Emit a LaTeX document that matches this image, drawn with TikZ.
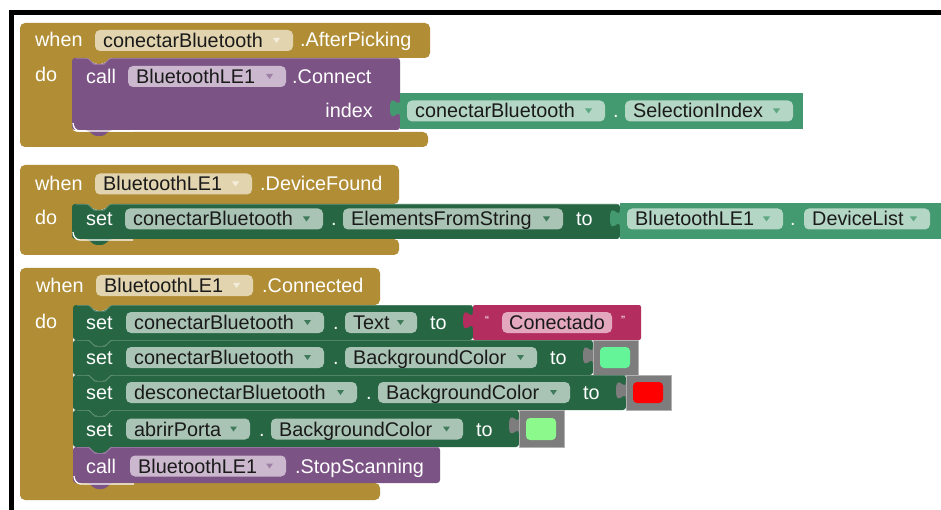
\documentclass[tikz,border=0pt]{standalone}
\usepackage{fontspec}
\setmainfont{Liberation Sans}

% block palette
\definecolor{ctrl}{HTML}{B18E35}
\definecolor{ctrlpill}{HTML}{E2D4AF}
\definecolor{ctrlarrow}{HTML}{F4EDDC}
\definecolor{proc}{HTML}{7C5385}
\definecolor{procpill}{HTML}{CBB8CE}
\definecolor{procarrow}{HTML}{9E80A6}
\definecolor{setg}{HTML}{266643}
\definecolor{setpill}{HTML}{A9C4B4}
\definecolor{setarrow}{HTML}{3F7A5B}
\definecolor{getg}{HTML}{439970}
\definecolor{getpill}{HTML}{B4D6C5}
\definecolor{getarrow}{HTML}{5EA883}
\definecolor{txt}{HTML}{B32D5E}
\definecolor{txtpill}{HTML}{E3A8BE}
\definecolor{colg}{HTML}{7D7D7D}
\definecolor{swgreen}{HTML}{63F597}
\definecolor{swred}{HTML}{FF0000}
\definecolor{swpale}{HTML}{8CF98C}
\definecolor{pilltxt}{HTML}{1A1A1A}

% statement block: x1, ytop, x2, ybottom, colour (notch on top, tab below)
\newcommand{\stmtblock}[5]{%
  \fill[#5, rounded corners=3] (#1,#2) -- ({#1+16},#2) -- ({#1+22},{#2+6}) -- ({#1+32},{#2+6}) -- ({#1+38},#2) -- (#3,#2)
    -- (#3,#4) -- ({#1+38},#4) -- ({#1+32},{#4+6}) -- ({#1+22},{#4+6}) -- ({#1+16},#4) -- (#1,#4) -- cycle;
  \draw[#5!70!white, line width=0.6] ({#1+4},{#2+0.4}) -- ({#1+16},{#2+0.4}) -- ({#1+22},{#2+6.4}) -- ({#1+32},{#2+6.4}) -- ({#1+38},{#2+0.4}) -- ({#3-1},{#2+0.4});
}
% event block with one statement input: x2 of header, header top, input top, input bottom, bar bottom, x2 of bar, inner x
\newcommand{\eventblock}[7]{%
  \fill[ctrl, rounded corners=5] (20,#2) -- (#1,#2) -- (#1,#3) -- ({#7+38},#3) -- ({#7+32},{#3+6}) -- ({#7+22},{#3+6}) -- ({#7+16},#3)
    -- (#7,#3) -- (#7,#4) -- (#6,#4) -- (#6,#5) -- (20,#5) -- cycle;
}
% jigsaw output tab on the left edge of a value block: x, ytop, colour
\newcommand{\valtab}[3]{%
  \fill[#3] (#1,{#2+6}) .. controls (#1,{#2+18.5}) and ({#1-10},{#2-3.5}) .. ({#1-10},{#2+15.5})
    .. controls ({#1-10},{#2+34}) and (#1,{#2+12.5}) .. (#1,{#2+25}) -- cycle;
}
% dropdown field: name, x1, x2, ycentre, text, fill, arrow colour
\newcommand{\ddpill}[7]{%
  \fill[#6, rounded corners=5] (#2,{#4-10.5}) rectangle (#3,{#4+10.5});
  \node[pilltext] (#1) at ({#2+8},{#4+7}) {#5};
  \fill[#7] ({#3-20},{#4-2.5}) -- ({#3-13},{#4-2.5}) -- ({#3-16.5},{#4+2.5}) -- cycle;
}
% white bevel under a statement input: x, ybottom
\newcommand{\bevel}[2]{%
  \draw[white, line width=1.3] (#1,{#2-8}) to[out=-90,in=180] ({#1+7},#2) -- ({#1+60},#2);
}

\begin{document}
\begin{tikzpicture}[x=1pt, y=-1pt,
  every node/.style={font=\fontsize{19.8}{22}\selectfont, inner sep=0},
  lbl/.style={text=white, anchor=base west},
  pilltext/.style={text=pilltxt, anchor=base west},
  quote/.style={text=white, anchor=base west, font=\fontsize{12}{13}\selectfont}]

\useasboundingbox (0,0) rectangle (941,510);
\fill[white] (0,0) rectangle (941,510);

% frame
\draw[line width=5, line join=miter] (11,515) -- (11,12.5) -- (946,12.5);

% ---------- when conectarBluetooth.AfterPicking ----------
\eventblock{430}{23}{58}{132}{147}{428}{72}
\stmtblock{72}{58}{400}{130}{proc}
\bevel{73}{131}
\fill[getg] (400,93) rectangle (803,129);
\valtab{400}{93}{getg}

\node[lbl] (w1) at (35,47) {when};
\ddpill{e1}{95}{293}{40.5}{conectarBluetooth}{ctrlpill}{ctrlarrow}
\node[lbl] (ev1) at (300,47) {.AfterPicking};
\node[lbl] (do1) at (35,82) {do};
\node[lbl] (call1) at (86,83.5) {call};
\ddpill{c1}{128}{286}{76.5}{BluetoothLE1}{procpill}{procarrow}
\node[lbl] (m1) at (292,83.5) {.Connect};
\node[text=white, anchor=base east] (idx) at (373,118) {index};
\ddpill{g1}{407}{605}{111}{conectarBluetooth}{getpill}{getarrow}
\node[lbl] (dot1) at (613,118) {.};
\ddpill{g2}{625}{793}{111}{SelectionIndex}{getpill}{getarrow}

% ---------- when BluetoothLE1.DeviceFound ----------
\eventblock{399}{165}{204}{239}{255}{399}{72}
\stmtblock{72}{204}{620}{239}{setg}
\bevel{73}{240}
\fill[getg] (620,203) rectangle (946,239);
\valtab{620}{203}{getg}

\node[lbl] (w2) at (35,191) {when};
\ddpill{e2}{95}{252}{184}{BluetoothLE1}{ctrlpill}{ctrlarrow}
\node[lbl] (ev2) at (260,191) {.DeviceFound};
\node[lbl] (do2) at (35,225) {do};
\node[lbl] (set2) at (86,226) {set};
\ddpill{s2a}{125}{323}{219}{conectarBluetooth}{setpill}{setarrow}
\node[lbl] (dot2) at (331,226) {.};
\ddpill{s2b}{343}{563}{219}{ElementsFromString}{setpill}{setarrow}
\node[lbl] (to2) at (576,226) {to};
\ddpill{g3}{627}{783}{219}{BluetoothLE1}{getpill}{getarrow}
\node[lbl] (dot3) at (790,226) {.};
\ddpill{g4}{804}{930}{219}{DeviceList}{getpill}{getarrow}

% ---------- when BluetoothLE1.Connected ----------
\eventblock{380}{268}{305}{483}{500}{380}{73}

% row 1: Text
\stmtblock{73}{305}{473}{340}{setg}
\fill[txt, rounded corners=2] (473,305) -- (641,305) -- (641,340) -- (473,340) -- cycle;
\valtab{473}{305}{txt}
% row 2: BackgroundColor (green)
\stmtblock{73}{340}{593}{375}{setg}
\fill[colg, draw=gray!60] (593,340) rectangle (638,375);
\valtab{593}{340}{colg}
\fill[swgreen, rounded corners=4] (600,347) rectangle (630,368);
% row 3: BackgroundColor (red)
\stmtblock{73}{375}{626}{410}{setg}
\fill[colg, draw=gray!60] (626,375) rectangle (671,410);
\valtab{626}{375}{colg}
\fill[swred, rounded corners=4] (633,382) rectangle (663,403);
% row 4: BackgroundColor (pale green)
\stmtblock{73}{410}{519}{447}{setg}
\fill[colg, draw=gray!60] (519,410) rectangle (564,447);
\valtab{519}{410}{colg}
\fill[swpale, rounded corners=4] (526,418) rectangle (556,440);
% row 5: StopScanning
\stmtblock{73}{447}{440}{483}{proc}
\bevel{74}{484}

\node[lbl] (w3) at (36,292) {when};
\ddpill{e3}{96}{253}{285.5}{BluetoothLE1}{ctrlpill}{ctrlarrow}
\node[lbl] (ev3) at (262,292) {.Connected};
\node[lbl] (do3) at (35,328) {do};

\node[lbl] (set3) at (86,329.5) {set};
\ddpill{r1a}{126}{324}{322.5}{conectarBluetooth}{setpill}{setarrow}
\node[lbl] (dot4) at (333,329.5) {.};
\ddpill{r1b}{345}{417}{322.5}{Text}{setpill}{setarrow}
\node[lbl] (to3) at (430,329.5) {to};
\node[quote] (q1) at (485,324) {“};
\fill[txtpill, rounded corners=5] (502,312) rectangle (612,333);
\node[pilltext] (str1) at (509,329.5) {Conectado};
\node[quote] (q2) at (621,324) {”};

\node[lbl] (set4) at (86,364.5) {set};
\ddpill{r2a}{126}{324}{357.5}{conectarBluetooth}{setpill}{setarrow}
\node[lbl] (dot5) at (333,364.5) {.};
\ddpill{r2b}{345}{537}{357.5}{BackgroundColor}{setpill}{setarrow}
\node[lbl] (to4) at (550,364.5) {to};

\node[lbl] (set5) at (86,399.5) {set};
\ddpill{r3a}{126}{357}{392.5}{desconectarBluetooth}{setpill}{setarrow}
\node[lbl] (dot6) at (366,399.5) {.};
\ddpill{r3b}{378}{570}{392.5}{BackgroundColor}{setpill}{setarrow}
\node[lbl] (to5) at (583,399.5) {to};

\node[lbl] (set6) at (86,436) {set};
\ddpill{r4a}{126}{250}{429}{abrirPorta}{setpill}{setarrow}
\node[lbl] (dot7) at (259,436) {.};
\ddpill{r4b}{271}{463}{429}{BackgroundColor}{setpill}{setarrow}
\node[lbl] (to6) at (476,436) {to};

\node[lbl] (call2) at (86,473) {call};
\ddpill{c2}{130}{286}{466}{BluetoothLE1}{procpill}{procarrow}
\node[lbl] (m2) at (295,473) {.StopScanning};

\end{tikzpicture}
\end{document}
